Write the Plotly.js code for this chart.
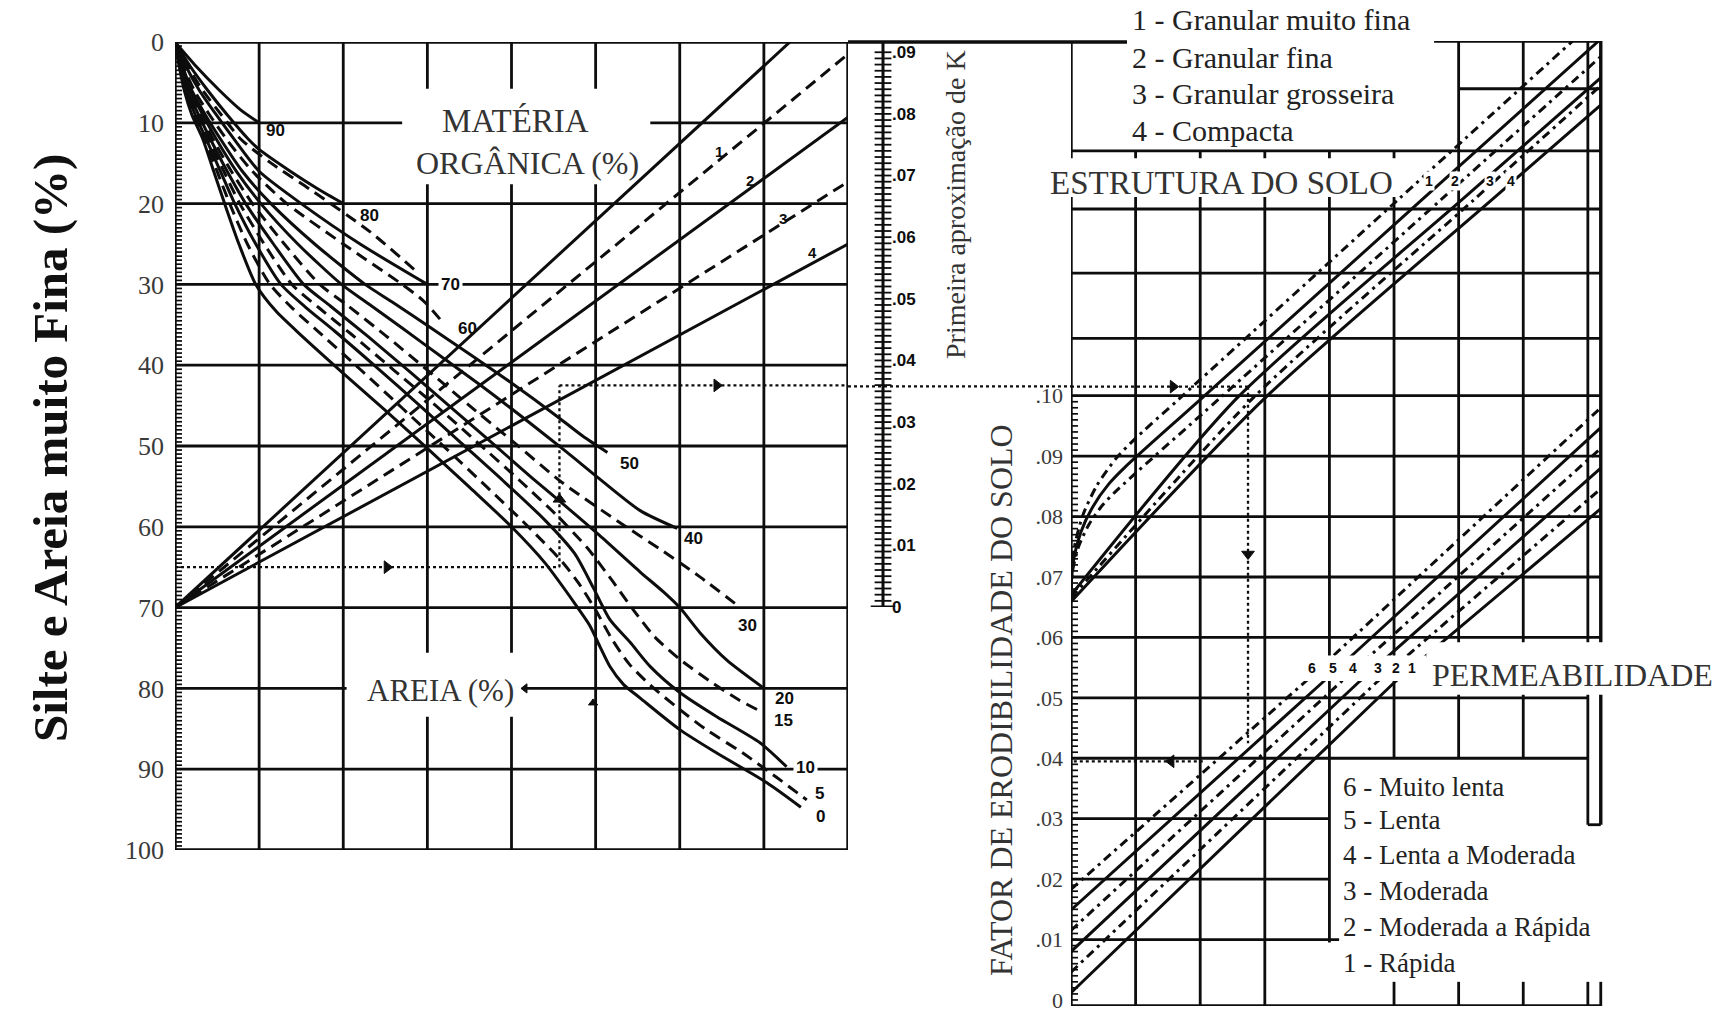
<!DOCTYPE html>
<html>
<head>
<meta charset="utf-8">
<script src="https://cdn.plot.ly/plotly-3.0.1.min.js"></script>
<style>
  html, body { margin: 0; padding: 0; background: #fff; }
  #chart { width: 1735px; height: 1013px; }
</style>
</head>
<body>
<div id="chart"></div>
<script>
// ---------------- Data ----------------
// Silt + very fine sand axis (%)
const siltTicks = [0, 10, 20, 30, 40, 50, 60, 70, 80, 90, 100];
// First-approximation K scale
const kFirstTicks = [0, 0.01, 0.02, 0.03, 0.04, 0.05, 0.06, 0.07, 0.08, 0.09];
const kFirstText = ['0', '.01', '.02', '.03', '.04', '.05', '.06', '.07', '.08', '.09'];
// Soil erodibility factor axis
const kFinalTicks = [0, 0.01, 0.02, 0.03, 0.04, 0.05, 0.06, 0.07, 0.08, 0.09, 0.10];
const kFinalText = ['0', '.01', '.02', '.03', '.04', '.05', '.06', '.07', '.08', '.09', '.10'];

// Sand (%) curves (x: grid units 0-80, y: silt + very fine sand %)
const sand90X = [0, 2.5, 5.3, 7.8, 10];
const sand90Y = [0, 3, 6, 8.4, 10];
const sand80X = [0, 1.8, 3.9, 6.2, 8.7, 10, 13.7, 17, 20];
const sand80Y = [0, 3, 6, 9, 12, 13.3, 16, 18.2, 20];
const sand75X = [0, 1.5, 3.3, 5.5, 7.8, 11.3, 16, 23.2, 28.8];
const sand75Y = [0, 3, 6, 9, 12, 14.9, 18.2, 23.5, 28.5];
const sand70X = [0, 1.3, 2.9, 4.9, 7, 10, 15, 22, 30];
const sand70Y = [0, 3, 6, 9, 12, 16, 20, 25, 30];
const sand60X = [0, 1.0, 2.3, 4.1, 6.1, 9.2, 13.3, 20, 27, 29.5, 31.5];
const sand60Y = [0, 3, 6, 9, 12, 16, 20, 25, 30, 32, 34.3];
const sand50X = [0, 0.9, 2.0, 3.6, 5.4, 8.0, 11.4, 16.6, 22.6, 26, 30, 35, 40, 45, 48.5, 51.4];
const sand50Y = [0, 3, 6, 9, 12, 16, 20, 25, 30, 32.3, 35.1, 38.6, 42.2, 46, 48.8, 50.8];
const sand40X = [0, 0.8, 1.8, 3.3, 4.9, 7.3, 10.2, 14.6, 19.8, 23, 27, 32, 37, 42, 46.5, 50.5, 55.3, 59.7];
const sand40Y = [0, 3, 6, 9, 12, 16, 20, 25, 30, 32.4, 35.4, 39.2, 43, 47, 50.7, 54.1, 58, 60.2];
const sand30X = [0, 0.75, 1.65, 3.0, 4.5, 6.7, 9.2, 13.0, 17.2, 20.5, 25, 30, 35, 40, 46, 52.9, 57.7, 62.4, 67.2];
const sand30Y = [0, 3, 6, 9, 12, 16, 20, 25, 30, 32.6, 36.3, 40.6, 45, 49.3, 54.5, 59.5, 62.8, 66.2, 70];
const sand20X = [0, 0.7, 1.5, 2.8, 4.2, 6.2, 8.4, 11.7, 15.3, 18.5, 23, 28, 33, 38, 42.5, 46.6, 50.5, 55.3, 58, 60, 62.4, 65.6, 69.9];
const sand20Y = [0, 3, 6, 9, 12, 16, 20, 25, 30, 32.7, 36.5, 40.9, 45.4, 49.9, 54, 57.6, 61.1, 65.6, 68, 70, 73.1, 76.5, 79.9];
const sand15X = [0, 0.65, 1.4, 2.6, 3.9, 5.8, 7.7, 10.6, 13.9, 17, 21, 26, 31, 36, 41, 45.5, 49, 52, 54.5, 57, 60, 64, 67, 69.9];
const sand15Y = [0, 3, 6, 9, 12, 16, 20, 25, 30, 32.8, 36.2, 40.6, 45, 49.6, 54.3, 58.7, 62.6, 66.7, 70.3, 73.6, 76.4, 79.4, 81.4, 83];
const sand10X = [0, 0.6, 1.3, 2.4, 3.7, 5.4, 7.1, 9.6, 12.6, 15.5, 19, 24, 29, 34, 39, 44, 47.5, 49.7, 51.7, 54.1, 56.5, 60, 64.4, 69.5, 72.7];
const sand10Y = [0, 3, 6, 9, 12, 16, 20, 25, 30, 32.8, 35.8, 40.3, 44.9, 49.6, 54.3, 59.2, 63.3, 67.5, 71.5, 74.3, 77.3, 80.5, 83.5, 86.7, 89.7];
const sand5X = [0, 0.55, 1.2, 2.2, 3.5, 5.0, 6.5, 8.6, 11.3, 14, 17, 22, 27, 32, 37, 42, 46, 48, 50, 52, 54, 56.5, 59.5, 63, 67.5, 71.5, 75.1];
const sand5Y = [0, 3, 6, 9, 12, 16, 20, 25, 30, 33, 35.8, 40.5, 45.3, 50.1, 55, 60, 64.3, 67, 70.3, 74, 77, 79.6, 82.2, 85, 88, 91, 93.8];
const sand0X = [0, 0.5, 1.1, 2.0, 3.3, 4.6, 5.9, 7.6, 9.6, 12, 15, 20, 25, 30, 35, 40, 44, 47.8, 49.3, 50.5, 51.7, 53.3, 55.3, 60, 64.4, 70.4, 74.4];
const sand0Y = [0, 3, 6, 9, 12, 16, 20, 25, 30, 33.3, 36.3, 41, 45.6, 50.3, 55.1, 60, 64.5, 69.9, 72.2, 74.8, 77.3, 79.5, 81.2, 85.1, 88, 91.7, 94.7];

const sandLabels = ['90', '80', '70', '60', '50', '40', '30', '20', '15', '10', '5', '0'];
const sandLabelX = [11.9, 23.1, 32.7, 34.8, 54.0, 61.6, 68.0, 72.5, 72.3, 75.0, 76.6, 76.7];
const sandLabelY = [11.0, 21.5, 30.0, 35.5, 52.2, 61.4, 72.2, 81.2, 84.0, 89.8, 93.0, 95.8];

// Organic matter (%) lines, all leaving silt = 70
const omX = [[0, 73.1], [0, 80], [0, 80], [0, 80], [0, 80]];
const omY = [[70, 0], [70, 1.5], [70, 9.3], [70, 17.3], [70, 25]];
const omLabels = ['1', '2', '3', '4'];
const omLabelX = [64.7, 68.4, 72.3, 75.8];
const omLabelY = [13.5, 17.1, 21.8, 26.1];

// Worked example: silt 65 %, first approximation K ≈ .036, final K ≈ .04
const exSilt = 65;
const exSandX = 45.7;
const exTurnSilt = 42.5;
const exFirstK = 0.0358;
const exEntryK = 0.1015;
const exStructX = 2.74;
const exPermK = 0.0425;
const exPermX = 2.04;
const exFinalK = 0.0395;

// Soil structure lines (right panel; x: grid units, y: K)
const structAX = [0, 0.046, 0.179, 0.398, 0.696, 0.975, 1.686, 5.058, 7.765];
const structAK = [0.0692, 0.0746, 0.0801, 0.0851, 0.0896, 0.0927, 0.0996, 0.1324, 0.1587];
const structBX = [0, 0.039, 0.152, 0.336, 0.586, 0.829, 2.026, 5.429, 8.167];
const structBK = [0.0682, 0.0728, 0.0774, 0.0816, 0.0854, 0.0881, 0.0996, 0.1324, 0.1587];
const structCX = [0, 0.031, 0.124, 0.278, 0.489, 0.696, 2.305, 5.723, 8.198];
const structCK = [0.0675, 0.0714, 0.0752, 0.0787, 0.0819, 0.0842, 0.0996, 0.1324, 0.1561];
const structDX = [0, 2.568, 6.048, 8.198];
const structDK = [0.0670, 0.0996, 0.1324, 0.1526];
const structEX = [0, 2.815, 6.234, 8.198];
const structEK = [0.0665, 0.0996, 0.1324, 0.1513];
const structFX = [0, 3.001, 6.512, 8.198];
const structFK = [0.0659, 0.0996, 0.1324, 0.1481];

// Permeability lines 6 (very slow) ... 1 (rapid)
const perm6X = [0, 3.630, 8.2];
const perm6K = [0.0183, 0.0527, 0.0980];
const perm5X = [0, 3.908, 8.2];
const perm5K = [0.0149, 0.0527, 0.0947];
const perm4X = [0, 4.186, 8.2];
const perm4K = [0.0115, 0.0527, 0.0913];
const perm3X = [0, 4.464, 8.2];
const perm3K = [0.0080, 0.0527, 0.0880];
const perm2X = [0, 4.742, 8.2];
const perm2K = [0.0046, 0.0527, 0.0846];
const perm1X = [0, 5.020, 8.2];
const perm1K = [0.0012, 0.0527, 0.0813];
const permLabels = ['6', '5', '4', '3', '2', '1'];

const structLegend = ['1 - Granular muito fina', '2 - Granular fina', '3 - Granular grosseira', '4 - Compacta'];
const permLegend = ['6 - Muito lenta', '5 - Lenta', '4 - Lenta a Moderada', '3 - Moderada', '2 - Moderada a Rápida', '1 - Rápida'];

// ---------------- Drawing ----------------
const W = 1735, H = 1013;
const INK = '#0d0d0d';
const SERIF = 'Liberation Serif, Times New Roman, serif';
const SANS = 'Liberation Sans, Arial, sans-serif';
const px = v => v / W;          // horizontal pixel -> paper
const py = v => 1 - v / H;      // vertical pixel -> paper
const DASH = '12px,7px';
const BAND_DASH = '9px,5px,3px,5px';
const PATH_DOT = '3px,3px';
const LW = 3;

const traces = [];
function curve(x, y, dash, xa, ya, w, spline) {
  traces.push({
    x: x, y: y, xaxis: xa, yaxis: ya, mode: 'lines', hoverinfo: 'skip',
    line: { color: INK, width: w || LW, dash: dash || 'solid', shape: spline ? 'spline' : 'linear', smoothing: 0.7 }
  });
}
function marks(x, y, xa, ya, symbol, size, lw) {
  traces.push({
    x: x, y: y, xaxis: xa, yaxis: ya, mode: 'markers', hoverinfo: 'skip',
    marker: { symbol: symbol, size: size, color: INK, line: { color: INK, width: lw || 1.7 } }
  });
}

// Sand curves
const sandSets = [
  [sand90X, sand90Y, 'solid'], [sand80X, sand80Y, 'solid'], [sand75X, sand75Y, DASH], [sand70X, sand70Y, 'solid'],
  [sand60X, sand60Y, DASH], [sand50X, sand50Y, 'solid'], [sand40X, sand40Y, 'solid'],
  [sand30X, sand30Y, DASH], [sand20X, sand20Y, 'solid'], [sand15X, sand15Y, DASH],
  [sand10X, sand10Y, 'solid'], [sand5X, sand5Y, DASH], [sand0X, sand0Y, 'solid']
];
sandSets.forEach(s => curve(s[0], s[1], s[2], 'x', 'y', LW, true));

// Organic matter lines
const omDash = ['solid', DASH, 'solid', DASH, 'solid'];
omX.forEach((xs, i) => curve(xs, omY[i], omDash[i], 'x', 'y', LW));

// Ruler on the silt axis
const siltMinor = [];
for (let v = 0; v <= 100; v += 0.5) siltMinor.push(v);
marks(siltMinor.map(() => 0), siltMinor, 'x', 'y', 'line-ew', 10, 1.7);

// K first-approximation ruler
const RULER_X = (883 - 848) / (1071 - 848);
const kMinor = [];
for (let v = 0; v <= 0.0905; v += 0.001) kMinor.push(v);
curve([RULER_X, RULER_X], [0, 0.0915], 'solid', 'x2', 'y2', 3);
marks(kMinor.map(() => RULER_X), kMinor, 'x2', 'y2', 'line-ew', 12, 1.8);
curve([RULER_X - 0.055, RULER_X + 0.055], [0, 0], 'solid', 'x2', 'y2', 3);

// Ruler on the final K axis
const kFinalMinor = [];
for (let v = 0; v <= 0.1005; v += 0.001) kFinalMinor.push(v);
marks(kFinalMinor.map(() => 0), kFinalMinor, 'x3', 'y3', 'line-ew', 10, 1.7);

// Structure lines
const structSets = [
  [structAX, structAK, BAND_DASH], [structBX, structBK, 'solid'], [structCX, structCK, BAND_DASH],
  [structDX, structDK, 'solid'], [structEX, structEK, BAND_DASH], [structFX, structFK, 'solid']
];
structSets.forEach(s => curve(s[0], s[1], s[2], 'x3', 'y3', LW, true));

// Permeability lines
const permSets = [
  [perm6X, perm6K, BAND_DASH], [perm5X, perm5K, 'solid'], [perm4X, perm4K, BAND_DASH],
  [perm3X, perm3K, 'solid'], [perm2X, perm2K, BAND_DASH], [perm1X, perm1K, 'solid']
];
permSets.forEach(s => curve(s[0], s[1], s[2], 'x3', 'y3', LW));

// Worked example path
curve([0, exSandX], [exSilt, exSilt], PATH_DOT, 'x', 'y', 2.3);
curve([exSandX, exSandX], [exSilt, exTurnSilt], PATH_DOT, 'x', 'y', 2.3);
curve([exSandX, 80], [exTurnSilt, exTurnSilt], PATH_DOT, 'x', 'y', 2.3);
curve([0, 1], [exFirstK, exFirstK], PATH_DOT, 'x2', 'y2', 2.3);
curve([0, exStructX], [exEntryK, exEntryK], PATH_DOT, 'x3', 'y3', 2.3);
curve([exStructX, exStructX], [exEntryK, exPermK], PATH_DOT, 'x3', 'y3', 2.3);
curve([exPermX, 0], [exFinalK, exFinalK], PATH_DOT, 'x3', 'y3', 2.3);
marks([25.2], [exSilt], 'x', 'y', 'triangle-right', 11, 1);
marks([exSandX], [56.6], 'x', 'y', 'triangle-up', 11, 1);
marks([64.4], [exTurnSilt], 'x', 'y', 'triangle-right', 11, 1);
marks([1.58], [exEntryK], 'x3', 'y3', 'triangle-right', 11, 1);
marks([exStructX], [0.0738], 'x3', 'y3', 'triangle-down', 11, 1);
marks([1.55], [exFinalK], 'x3', 'y3', 'triangle-left', 11, 1);
// Direction marks on the sand scale
marks([41.6], [80], 'x', 'y', 'triangle-left', 8, 1);
marks([49.7], [81.8], 'x', 'y', 'triangle-up', 8, 1);

// ---------------- Grid as shapes ----------------
const shapes = [];
function seg(xref, yref, x0, y0, x1, y1, w, layer) {
  shapes.push({ type: 'line', xref: xref, yref: yref, x0: x0, y0: y0, x1: x1, y1: y1,
    line: { color: INK, width: w || 2.8 }, layer: layer || 'below' });
}
function mask(xref, yref, x0, y0, x1, y1, layer) {
  shapes.push({ type: 'rect', xref: xref, yref: yref, x0: x0, y0: y0, x1: x1, y1: y1,
    fillcolor: '#fff', line: { width: 0 }, layer: layer || 'below' });
}

// Left panel grid
for (let v = 0; v <= 80; v += 10) seg('x', 'y', v, 0, v, 100, (v === 0 || v === 80) ? 3.4 : 2.8);
for (let h = 0; h <= 100; h += 10) seg('x', 'y', 0, h, 80, h, (h === 0 || h === 100) ? 3.4 : 2.8);
mask('x', 'y', 27, 5.8, 56.5, 17.6);
mask('x', 'y', 20.4, 75.6, 41.3, 83.5);

// Top rule joining the panels
seg('paper', 'paper', px(848), py(42), px(1127), py(42), 3.4);

// Right panel grid
const TOP = 0.1587, BOT = -0.001;
seg('x3', 'y3', 0, BOT, 0, TOP, 3.4);
[1, 2, 3].forEach(v => seg('x3', 'y3', v, BOT, v, 0.1405));
seg('x3', 'y3', 4, 0.0095, 4, 0.1405);
seg('x3', 'y3', 5, 0.04, 5, 0.1405);
[6, 7].forEach(v => seg('x3', 'y3', v, 0.04, v, TOP));
seg('x3', 'y3', 8, 0.029, 8, TOP);
seg('x3', 'y3', 8.2, 0.029, 8.2, TOP, 3.4);
seg('x3', 'y3', 8, 0.029, 8.2, 0.029);
[5, 6, 7, 8, 8.2].forEach(v => seg('x3', 'y3', v, BOT, v, 0.003));
seg('x3', 'y3', 0, BOT, 8.2, BOT, 3.4);
seg('x3', 'y3', 0, 0.01, 4.15, 0.01);
[0.02, 0.03].forEach(k => seg('x3', 'y3', 0, k, 4, k));
[0.04, 0.05].forEach(k => seg('x3', 'y3', 0, k, 8, k));
[0.06, 0.07, 0.08, 0.09, 0.10, 0.1095, 0.1203, 0.1309, 0.1405].forEach(k => seg('x3', 'y3', 0, k, 8.2, k));
seg('x3', 'y3', 6, 0.1508, 8.2, 0.1508);
seg('x3', 'y3', 5.62, TOP, 8.2, TOP, 3.4);

// Label masks (above the line work)
mask('paper', 'y3', px(1047), 0.1329, px(1396), 0.1393, 'above');
mask('x3', 'y3', 3.5, 0.0528, 5.5, 0.0570, 'above');
mask('x3', 'y3', 5.5, 0.0505, 8.25, 0.0592, 'above');

// ---------------- Text ----------------
const ann = [];
function txt(text, x, y, opt) {
  const o = opt || {};
  ann.push({
    text: text, x: x, y: y, xref: o.xref || 'paper', yref: o.yref || 'paper',
    showarrow: false, xanchor: o.xanchor || 'center', yanchor: o.yanchor || 'middle',
    textangle: o.angle || 0, bgcolor: o.bg || 'rgba(0,0,0,0)', borderpad: o.pad || 0,
    font: { family: o.family || SERIF, size: o.size || 26, color: o.color || '#222', weight: o.weight || 'normal' }
  });
}

txt('Silte e Areia muito Fina (%)', px(50), py(448), { angle: -90, size: 49, weight: 'bold', color: '#111' });
txt('MATÉRIA', px(515), py(121), { size: 33, color: '#333' });
txt('ORGÂNICA (%)', px(527), py(163), { size: 32, color: '#333' });
txt('AREIA (%)', px(440), py(690), { size: 31, color: '#333' });

sandLabels.forEach((s, i) => {
  const onLine = (s === '70' || s === '10');
  txt(s, sandLabelX[i], sandLabelY[i], { xref: 'x', yref: 'y', family: SANS, size: 17, weight: 'bold',
    color: INK, bg: onLine ? '#fff' : 'rgba(0,0,0,0)', pad: onLine ? 2 : 0 });
});
omLabels.forEach((s, i) => txt(s, omLabelX[i], omLabelY[i], { xref: 'x', yref: 'y', family: SANS, size: 15, weight: 'bold', color: INK }));

txt('Primeira aproximação de K', px(955), py(205), { angle: -90, size: 28, color: '#333' });
txt('FATOR DE ERODIBILIDADE DO SOLO', px(1001), py(700), { angle: -90, size: 32, color: '#333' });

const structLegendY = [20, 57, 94, 130];
structLegend.forEach((s, i) => txt(s, px(1131), py(structLegendY[i]), { xanchor: 'left', size: 30, color: '#222' }));
txt('ESTRUTURA DO SOLO', px(1049), py(183), { xanchor: 'left', size: 33, color: '#333' });
const structLabelX = [1429, 1455, 1490, 1511];
['1', '2', '3', '4'].forEach((s, i) => txt(s, px(structLabelX[i]), py(181), { family: SANS, size: 14, weight: 'bold', color: INK,
  bg: '#fff', pad: 1 }));

const permLabelX = [1312, 1333, 1353, 1378, 1396, 1412];
permLabels.forEach((s, i) => txt(s, px(permLabelX[i]), py(668), { family: SANS, size: 14, weight: 'bold', color: INK }));
txt('PERMEABILIDADE', px(1431), py(675), { xanchor: 'left', size: 32, color: '#333' });
const permLegendY = [787, 820, 855, 891, 927, 963];
permLegend.forEach((s, i) => txt(s, px(1342), py(permLegendY[i]), { xanchor: 'left', size: 27, color: '#222' }));

// ---------------- Layout ----------------
const hidden = { visible: false, fixedrange: true };
const layout = {
  width: W, height: H,
  margin: { l: 0, r: 0, t: 0, b: 0, pad: 0 },
  paper_bgcolor: '#fff', plot_bgcolor: 'rgba(0,0,0,0)',
  showlegend: false,
  xaxis: Object.assign({ domain: [px(175), px(848)], range: [0, 80], anchor: 'y' }, hidden),
  yaxis: {
    domain: [py(850), py(42)], range: [100, 0], anchor: 'x', fixedrange: true,
    tickvals: siltTicks, ticktext: siltTicks.map(String), ticks: '', showgrid: false, zeroline: false, showline: false,
    ticklabelstandoff: 10, tickfont: { family: SERIF, size: 26, color: '#3a3a3a' }
  },
  xaxis2: Object.assign({ domain: [px(848), px(1071)], range: [0, 1], anchor: 'y2' }, hidden),
  yaxis2: {
    domain: [py(607), py(43)], range: [0, 0.0915], anchor: 'free', position: px(883), side: 'right',
    tickvals: kFirstTicks, ticktext: kFirstText, ticks: '', showgrid: false, zeroline: false, showline: false,
    ticklabelstandoff: 8, fixedrange: true,
    tickfont: { family: SANS, size: 17, color: INK, weight: 'bold' }
  },
  xaxis3: Object.assign({ domain: [px(1071), px(1604)], range: [0, 8.25], anchor: 'y3' }, hidden),
  yaxis3: {
    domain: [py(1006), py(41)], range: [-0.001, 0.1587], anchor: 'x3',
    tickvals: kFinalTicks, ticktext: kFinalText, ticks: '', showgrid: false, zeroline: false, showline: false,
    ticklabelstandoff: 7, fixedrange: true,
    tickfont: { family: SERIF, size: 22, color: '#3a3a3a' }
  },
  shapes: shapes,
  annotations: ann
};

Plotly.newPlot('chart', traces, layout, { staticPlot: true, displayModeBar: false });
</script>
</body>
</html>
